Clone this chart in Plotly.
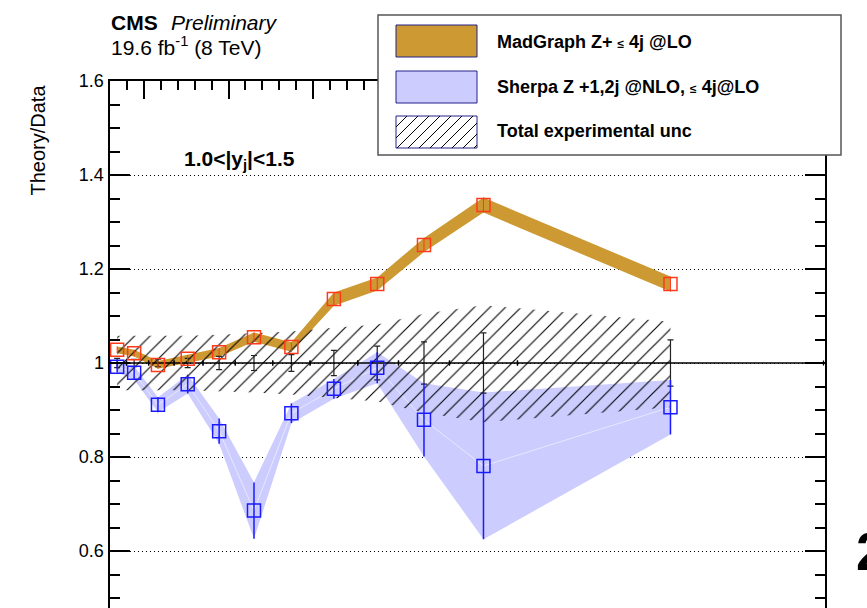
import numpy as np
import plotly.graph_objects as go

W, H = 867, 608
FONT = "Liberation Sans, Arial, Helvetica, sans-serif"

# Leading-jet pT bins (GeV) and bin centres
bin_lo = [30, 40, 53, 68, 85, 104, 126, 148, 176, 200, 230, 270]
bin_hi = [40, 53, 68, 85, 104, 126, 148, 176, 200, 230, 270, 450]
pt = [34.5, 44.5, 58.5, 76, 94.5, 115, 137, 162, 187.5, 215, 250, 360]

# Theory/Data ratios
mg = [1.028, 1.021, 0.996, 1.009, 1.023, 1.055, 1.034, 1.136, 1.168, 1.251, 1.336, 1.168]
mg_err = [0.007, 0.007, 0.008, 0.008, 0.009, 0.010, 0.010, 0.014, 0.014, 0.015, 0.016, 0.016]
sherpa = [0.992, 0.979, 0.911, 0.955, 0.855, 0.686, 0.893, 0.945, 0.990, 0.879, 0.781, 0.906]
sherpa_err = [0.012, 0.014, 0.016, 0.020, 0.027, 0.060, 0.021, 0.021, 0.033, 0.078, 0.156, 0.058]

# Data (ratio = 1) statistical errors and total experimental uncertainty band
data_ratio = [1.0] * 12
data_err = [0.010, 0.008, 0.008, 0.010, 0.014, 0.016, 0.018, 0.027, 0.036, 0.045, 0.064, 0.049]
exp_hi = [1.058, 1.058, 1.058, 1.058, 1.060, 1.063, 1.067, 1.075, 1.082, 1.105, 1.123, 1.088]
exp_lo = [0.942, 0.942, 0.942, 0.942, 0.940, 0.937, 0.933, 0.925, 0.918, 0.894, 0.874, 0.906]

y_ticks = [0.6, 0.8, 1.0, 1.2, 1.4, 1.6]
y_ticktext = ["0.6", "0.8", "1", "1.2", "1.4", "1.6"]

MG_FILL = "#CC9933"
MG_MARK = "#FF3A1A"
SH_FILL = "#CCCCFF"
SH_MARK = "#1A1AFF"
SWATCH_EDGE = "#22228A"


def px(xp):
    return xp / W


def py(yp):
    return 1 - yp / H


def band(x, lo, hi):
    xs = list(x) + list(x)[::-1] + [x[0]]
    ys = list(hi) + list(lo)[::-1] + [hi[0]]
    return xs, ys


fig = go.Figure()

# Sherpa uncertainty band
sx, sy = band(pt, [v - e for v, e in zip(sherpa, sherpa_err)],
              [v + e for v, e in zip(sherpa, sherpa_err)])
fig.add_trace(go.Scatter(x=sx, y=sy, fill="toself", fillcolor=SH_FILL,
                         line=dict(width=0), mode="lines", hoverinfo="skip"))
fig.add_trace(go.Scatter(x=pt, y=sherpa, mode="lines",
                         line=dict(color="rgba(255,255,255,0.55)", width=1),
                         hoverinfo="skip"))

# MadGraph band
mx, my = band(pt, [v - e for v, e in zip(mg, mg_err)],
              [v + e for v, e in zip(mg, mg_err)])
fig.add_trace(go.Scatter(x=mx, y=my, fill="toself", fillcolor=MG_FILL,
                         line=dict(width=0), mode="lines", hoverinfo="skip"))

# Total experimental uncertainty (hatched)
ex, ey = band(pt, exp_lo, exp_hi)
fig.add_trace(go.Scatter(
    x=ex, y=ey, fill="toself", mode="lines", line=dict(width=0),
    fillcolor="rgba(0,0,0,0)",
    fillpattern=dict(shape="/", size=11, solidity=0.1, fgcolor="black",
                     bgcolor="rgba(0,0,0,0)"),
    hoverinfo="skip"))

# Data points with bin widths
fig.add_trace(go.Scatter(
    x=pt, y=data_ratio, mode="markers",
    marker=dict(size=1, color="rgba(0,0,0,0)"),
    error_x=dict(type="data", symmetric=False,
                 array=[h - c for h, c in zip(bin_hi, pt)],
                 arrayminus=[c - l for l, c in zip(bin_lo, pt)],
                 color="black", thickness=1.3, width=2.5),
    error_y=dict(type="data", array=data_err, color="#222222",
                 thickness=1.2, width=3),
    hoverinfo="skip"))

# MadGraph markers
fig.add_trace(go.Scatter(
    x=pt, y=mg, mode="markers",
    marker=dict(symbol="square-open", size=13, color=MG_MARK,
                line=dict(width=1.5, color=MG_MARK)),
    error_y=dict(type="data", array=mg_err, color=MG_MARK, thickness=1, width=0),
    hoverinfo="skip"))

# Sherpa markers
fig.add_trace(go.Scatter(
    x=pt, y=sherpa, mode="markers",
    marker=dict(symbol="square-open", size=13, color=SH_MARK,
                line=dict(width=1.5, color=SH_MARK)),
    error_y=dict(type="data", array=sherpa_err, color=SH_MARK, thickness=1.5, width=0),
    hoverinfo="skip"))

# ---- legend box ----
shapes = [dict(type="rect", xref="paper", yref="paper",
               x0=px(378), x1=px(841), y0=py(155), y1=py(15),
               fillcolor="white", line=dict(color="#555555", width=1.5),
               layer="above")]
sw_x0, sw_x1 = 396, 477
swatches = [(25, 57, MG_FILL), (71, 103, SH_FILL), (116, 148, "white")]
for top, bot, col in swatches:
    shapes.append(dict(type="rect", xref="paper", yref="paper",
                       x0=px(sw_x0), x1=px(sw_x1), y0=py(bot), y1=py(top),
                       fillcolor=col, line=dict(color=SWATCH_EDGE, width=1),
                       layer="above"))

# hatch lines in the last swatch
h_top, h_bot = 116, 148
hh = h_bot - h_top
for c in np.arange(sw_x0 - hh, sw_x1, 11.0):
    t0 = max(0.0, sw_x0 - c)
    t1 = min(float(hh), sw_x1 - c)
    if t1 - t0 < 0.5:
        continue
    shapes.append(dict(type="line", xref="paper", yref="paper",
                       x0=px(c + t0), y0=py(h_bot - t0),
                       x1=px(c + t1), y1=py(h_bot - t1),
                       line=dict(color="black", width=1), layer="above"))

legend_labels = ["MadGraph Z+ <span style='font-size:12px'>≤</span> 4j @LO",
                 "Sherpa Z +1,2j @NLO, <span style='font-size:12px'>≤</span> 4j@LO",
                 "Total experimental unc"]
legend_y = [42, 86.5, 131]

annotations = []
for lab, yc in zip(legend_labels, legend_y):
    annotations.append(dict(text="<b>" + lab + "</b>", x=px(495), y=py(yc),
                            xref="paper", yref="paper", xanchor="left",
                            yanchor="middle", showarrow=False,
                            font=dict(family=FONT, size=18, color="black")))

annotations += [
    dict(text="<b>CMS</b>", x=px(109), y=py(22.5), xref="paper", yref="paper",
         xanchor="left", yanchor="middle", showarrow=False,
         font=dict(family=FONT, size=21, color="black")),
    dict(text="<i>Preliminary</i>", x=px(169), y=py(22.5), xref="paper", yref="paper",
         xanchor="left", yanchor="middle", showarrow=False,
         font=dict(family=FONT, size=21, color="black")),
    dict(text="19.6 fb<sup>-1</sup> (8 TeV)", x=px(109), y=py(46), xref="paper",
         yref="paper", xanchor="left", yanchor="middle", showarrow=False,
         font=dict(family=FONT, size=21, color="black")),
    dict(text="<b>1.0&lt;|y<sub>j</sub>|&lt;1.5</b>", x=px(182), y=py(160),
         xref="paper", yref="paper", xanchor="left", yanchor="middle",
         showarrow=False, font=dict(family=FONT, size=21, color="black")),
    dict(text="Theory/Data", x=px(37), y=py(83), xref="paper", yref="paper",
         xanchor="center", yanchor="top", textangle=-90, showarrow=False,
         font=dict(family=FONT, size=20, color="black")),
    dict(text="<b>2</b>", x=px(854), y=py(551), xref="paper", yref="paper",
         xanchor="left", yanchor="middle", showarrow=False,
         font=dict(family=FONT, size=54, color="black")),
]

fig.update_layout(
    width=W, height=H,
    margin=dict(l=0, r=0, t=0, b=0),
    template="none",
    paper_bgcolor="white", plot_bgcolor="white",
    showlegend=False,
    shapes=shapes, annotations=annotations,
    xaxis=dict(domain=[px(109.5), px(825)], range=[30, 450.9], side="top",
               showline=True, linewidth=2, linecolor="black", mirror=False,
               ticks="inside", ticklen=18, tickwidth=1.5, tickcolor="black",
               tick0=0, dtick=50, showticklabels=False, showgrid=False,
               zeroline=False, automargin=False,
               minor=dict(ticks="inside", ticklen=9, tickwidth=1.5,
                          tickcolor="black", tick0=0, dtick=10, showgrid=False)),
    yaxis=dict(domain=[0, 527 / H], range=[1 - 245 / 470, 1.6],
               showline=True, linewidth=2, linecolor="black", mirror="allticks",
               ticks="inside", ticklen=20, tickwidth=1.5, tickcolor="black",
               tickvals=y_ticks, ticktext=y_ticktext,
               tickfont=dict(family=FONT, size=18, color="black"),
               showgrid=True, gridcolor="black", gridwidth=1, griddash="1px,3px",
               zeroline=False, automargin=False,
               minor=dict(ticks="inside", ticklen=10, tickwidth=1.5,
                          tickcolor="black", dtick=0.05, tick0=0, showgrid=False)),
)

fig.write_html("out.html")
